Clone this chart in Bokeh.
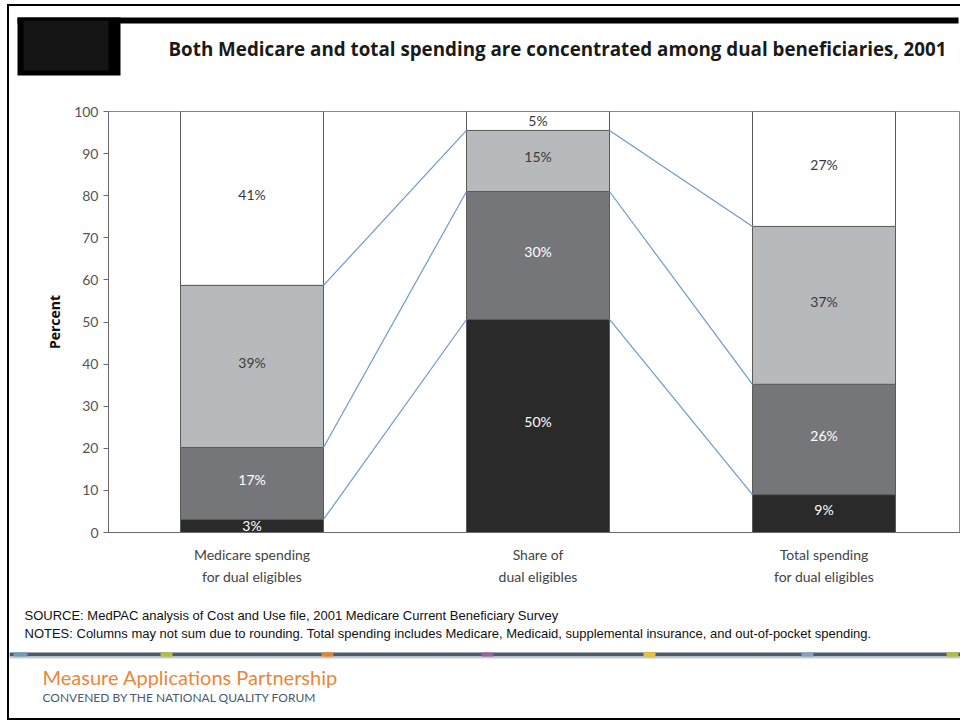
import numpy as np
from bokeh.plotting import figure
from bokeh.layouts import column
from bokeh.models import Range1d, FixedTicker, ColumnDataSource
from bokeh.core.properties import value
from bokeh.embed import file_html
from bokeh.resources import INLINE

# ---- data ----
categories = ["Medicare spending\nfor dual eligibles", "Share of\ndual eligibles", "Total spending\nfor dual eligibles"]
seg_dark = [3.1, 50.6, 9.0]
seg_mid = [17.1, 30.4, 26.2]
seg_light = [38.5, 14.5, 37.5]
seg_white = [41.3, 4.5, 27.3]
lab_dark = ["3%", "50%", "9%"]
lab_mid = ["17%", "30%", "26%"]
lab_light = ["39%", "15%", "37%"]
lab_white = ["41%", "5%", "27%"]
y_ticks = [0, 10, 20, 30, 40, 50, 60, 70, 80, 90, 100]

title_text = "Both Medicare and total spending are concentrated among dual beneficiaries, 2001"
source_text = "SOURCE: MedPAC analysis of Cost and Use file, 2001 Medicare Current Beneficiary Survey"
notes_text = ("NOTES: Columns may not sum due to rounding. Total spending includes Medicare, Medicaid, "
              "supplemental insurance, and out-of-pocket spending.")
brand_text = "Measure Applications Partnership"
convened_text = "CONVENED BY THE NATIONAL QUALITY FORUM"

# ---- page geometry (page pixels) ----
OX, OY = 9, 6            # content origin inside the CSS border
W = 960 - OX
H_HEAD, H_MAIN, H_FOOT = 90, 504, 118
Y_MAIN0 = OY + H_HEAD
Y_FOOT0 = Y_MAIN0 + H_MAIN
FL, FT, FB, FR = 108, 111, 532, 960
C0, STEP = 251.5, 286.0
BAR_W = 143 / STEP


def deco_fig(y0, h):
    f = figure(width=W, height=h, output_backend="svg", toolbar_location=None,
               x_range=Range1d(OX, OX + W), y_range=Range1d(y0 + h, y0),
               x_axis_location=None, y_axis_location=None,
               min_border=0, min_border_left=0, min_border_right=0,
               min_border_top=0, min_border_bottom=0, frame_align=False)
    f.xgrid.visible = False
    f.ygrid.visible = False
    f.outline_line_color = None
    f.background_fill_color = "white"
    f.border_fill_color = "white"
    return f


# ---- header ----
head = deco_fig(OY, H_HEAD)
head.quad(left=[17, 17, 23], right=[958, 120, 108], top=[17, 17, 20], bottom=[23, 75, 70],
          fill_color=["#000000", "#000000", "#141414"], line_color=None)
head.text(x=[168], y=[48], text=[title_text], text_font=value("Open Sans"),
          text_font_style="bold", text_font_size="18.8px", text_color="#1a1a1a",
          text_baseline="middle", text_align="left")

# ---- main chart ----
p = figure(width=W, height=H_MAIN, output_backend="svg", toolbar_location=None,
           x_range=Range1d((FL - C0) / STEP, (FR - C0) / STEP), y_range=Range1d(0, 100),
           min_border_left=FL - OX, min_border_top=FT - Y_MAIN0,
           min_border_bottom=Y_FOOT0 - FB, min_border_right=0, frame_align=False)
p.xgrid.visible = False
p.ygrid.visible = False
p.outline_line_color = "#8a8a8a"
p.background_fill_color = "white"
p.border_fill_color = "white"

xa = p.xaxis[0]
xa.ticker = FixedTicker(ticks=[0, 1, 2])
xa.major_label_overrides = {i: c for i, c in enumerate(categories)}
xa.major_tick_line_color = None
xa.minor_tick_line_color = None
xa.axis_line_color = "#6a6a6a"
xa.major_label_text_font = "Lato"
xa.major_label_text_font_size = "14px"
xa.major_label_text_color = "#444444"
xa.major_label_text_line_height = 1.35
xa.major_label_standoff = 7

ya = p.yaxis[0]
ya.ticker = FixedTicker(ticks=y_ticks)
ya.minor_tick_line_color = None
ya.major_tick_in = 0
ya.major_tick_out = 5
ya.axis_line_color = "#6a6a6a"
ya.major_tick_line_color = "#6a6a6a"
ya.major_label_text_font = "Lato"
ya.major_label_text_font_size = "14px"
ya.major_label_text_color = "#555555"
ya.major_label_standoff = 5
ya.axis_label = "Percent"
ya.axis_label_text_font = "Open Sans"
ya.axis_label_text_font_style = "bold"
ya.axis_label_text_font_size = "14px"
ya.axis_label_text_color = "#111111"
ya.axis_label_standoff = 7

xs = np.arange(len(categories))
segs = [seg_dark, seg_mid, seg_light, seg_white]
labs = [lab_dark, lab_mid, lab_light, lab_white]
fills = ["#2b2a2b", "#757679", "#b7babd", "#ffffff"]
txtc = ["white", "white", "#3a3a3a", "#3a3a3a"]
bottom = np.zeros(len(categories))
cum_levels = []
for seg, lab, fc, tc in zip(segs, labs, fills, txtc):
    seg = np.array(seg, dtype=float)
    top = bottom + seg
    # labels in tall segments sit slightly above the centre; thin ones are centred
    yoff = np.where(seg < 6, 0.0, -4.0)
    src = ColumnDataSource(dict(x=xs, bottom=bottom, top=top, mid=(bottom + top) / 2,
                                lab=lab, yoff=yoff))
    p.vbar(x="x", bottom="bottom", top="top", width=BAR_W, source=src,
           fill_color=fc, line_color="#5a5a5a", line_width=1)
    p.text(x="x", y="mid", text="lab", source=src, text_align="center", text_baseline="middle",
           y_offset="yoff", text_font=value("Lato"), text_font_size="14px", text_color=tc)
    cum_levels.append(top.copy())
    bottom = top

for lvl in cum_levels[:3]:
    p.segment(x0=xs[:-1] + BAR_W / 2, y0=lvl[:-1], x1=xs[1:] - BAR_W / 2, y1=lvl[1:],
              line_color="#6f98cf", line_width=1.2)

# ---- footer ----
foot = deco_fig(Y_FOOT0, H_FOOT)
stripe_l = [OX, OX, 13, 160, 321, 481, 643, 801, 946]
stripe_r = [960, 960, 27, 172, 333, 493, 655, 813, 958]
stripe_t = [652, 656, 652, 652, 652, 652, 652, 652, 652]
stripe_b = [656, 658, 656, 656, 656, 656, 656, 656, 656]
stripe_c = ["#4a5b6b", "#c8ccd0", "#6f9ab8", "#b5c034", "#e8822a", "#9b5ea0", "#f0c419", "#7fa3bd", "#b5c034"]
foot.quad(left=stripe_l, right=stripe_r, top=stripe_t, bottom=stripe_b, fill_color=stripe_c, line_color=None)
foot.text(x=[24, 24], y=[615, 633], text=[source_text, notes_text],
          text_font=value("Liberation Sans"), text_font_size="13px", text_color="#111111",
          text_baseline="middle", text_align="left")
foot.text(x=[42], y=[676], text=[brand_text], text_font=value("Lato"), text_font_size="20px",
          text_color="#e8873a", text_baseline="middle", text_align="left")
foot.text(x=[42], y=[697], text=[convened_text], text_font=value("Lato"), text_font_size="12px",
          text_color="#4a5b6b", text_baseline="middle", text_align="left")

layout = column(head, p, foot, spacing=0,
                styles={"margin-left": "7px", "margin-top": "4px",
                        "border-left": "2px solid black", "border-top": "2px solid black",
                        "border-bottom": "2px solid black"})

open("out.html", "w").write(file_html(layout, INLINE))
